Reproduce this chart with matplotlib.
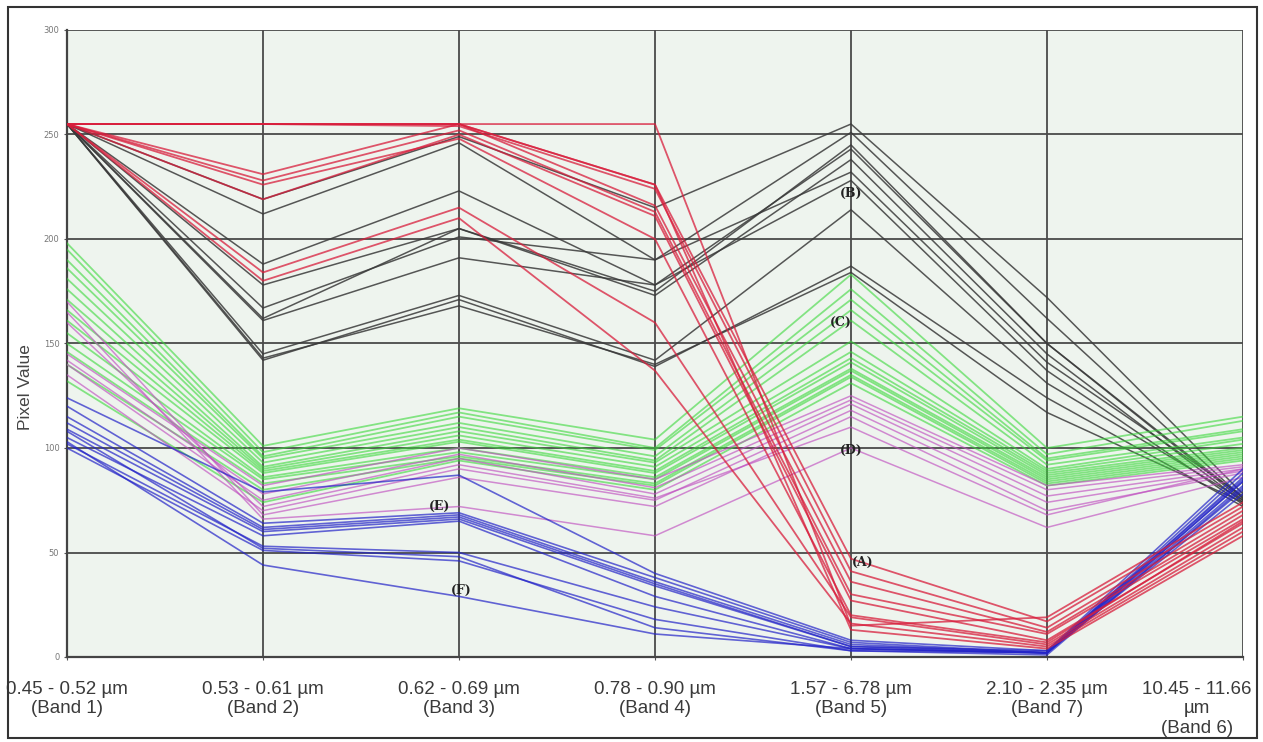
import matplotlib
matplotlib.use("Agg")
import matplotlib.pyplot as plt
from matplotlib.patches import Rectangle

bands = ["0.45 - 0.52 µm\n(Band 1)", "0.53 - 0.61 µm\n(Band 2)", "0.62 - 0.69 µm\n(Band 3)",
         "0.78 - 0.90 µm\n(Band 4)", "1.57 - 6.78 µm\n(Band 5)", "2.10 - 2.35 µm\n(Band 7)",
         "10.45 - 11.66\nµm\n(Band 6)"]
y_ticks = [0, 50, 100, 150, 200, 250, 300]

# Class A (red)
red_lines = [
    [255, 255, 255, 255, 15, 19, 74],
    [255, 255, 255, 226, 47, 17, 72],
    [255, 255, 254, 224, 41, 14, 70],
    [255, 231, 255, 216, 36, 12, 68],
    [255, 228, 252, 213, 30, 11, 66],
    [255, 219, 250, 211, 27, 8, 64],
    [255, 184, 215, 160, 19, 6, 62],
    [255, 180, 210, 137, 16, 5, 60],
    [255, 255, 255, 226, 13, 4, 58],
    [255, 226, 248, 200, 20, 7, 65],
]
# Class B (black)
black_lines = [
    [255, 219, 249, 215, 255, 172, 78],
    [255, 212, 246, 190, 251, 162, 76],
    [255, 188, 223, 178, 243, 150, 75],
    [255, 178, 205, 173, 238, 145, 74],
    [255, 167, 201, 190, 232, 141, 77],
    [255, 161, 191, 178, 228, 137, 73],
    [255, 145, 173, 142, 214, 131, 75],
    [255, 142, 171, 139, 187, 124, 72],
    [255, 143, 168, 140, 184, 117, 74],
    [255, 162, 205, 175, 245, 150, 76],
]
# Class C (green)
green_lines = [
    [198, 101, 119, 104, 183, 100, 115],
    [195, 98, 117, 100, 176, 97, 113],
    [190, 96, 115, 99, 171, 95, 109],
    [186, 95, 112, 96, 166, 94, 108],
    [181, 93, 110, 94, 161, 92, 105],
    [176, 91, 108, 93, 151, 90, 104],
    [171, 90, 106, 91, 146, 89, 102],
    [166, 89, 104, 89, 143, 88, 100],
    [161, 88, 103, 88, 141, 87, 99],
    [155, 86, 100, 86, 138, 86, 98],
    [150, 85, 98, 85, 137, 85, 97],
    [146, 83, 96, 83, 135, 84, 96],
    [140, 80, 95, 82, 134, 83, 95],
    [132, 74, 94, 80, 131, 82, 94],
]
# Class D (magenta)
magenta_lines = [
    [145, 82, 100, 85, 125, 82, 92],
    [142, 78, 97, 81, 123, 80, 91],
    [140, 75, 95, 78, 121, 77, 90],
    [135, 70, 90, 75, 118, 74, 89],
    [170, 68, 86, 72, 115, 70, 88],
    [165, 66, 72, 58, 100, 62, 86],
    [160, 72, 92, 76, 110, 68, 90],
]
# Classes E / F (blue)
blue_lines = [
    [124, 79, 87, 40, 8, 3, 90],
    [120, 64, 69, 38, 7, 2, 88],
    [115, 62, 68, 36, 6, 2, 86],
    [112, 61, 67, 35, 5, 3, 85],
    [109, 60, 66, 34, 5, 2, 84],
    [105, 58, 65, 29, 4, 2, 82],
    [102, 53, 50, 24, 4, 2, 80],
    [100, 51, 46, 18, 3, 2, 78],
    [108, 52, 48, 14, 3, 1, 81],
    [103, 44, 29, 11, 4, 2, 84],
]
labels = ["(A)", "(B)", "(C)", "(D)", "(E)", "(F)"]
label_x = [4.06, 4.0, 3.95, 4.0, 1.9, 2.01]
label_y = [45, 222, 160, 99, 72, 32]

fig = plt.figure(figsize=(12.63, 7.42), dpi=100)
fig.patch.set_facecolor("white")
ax = fig.add_axes([67/1263, 1-657/742, (1243-67)/1263, (657-30)/742])
ax.set_facecolor("#eef4ee")

x = list(range(len(bands)))
for v in black_lines:
    ax.plot(x, v, color="#3a3a3a", lw=1.1, alpha=0.85, zorder=3)
for v in green_lines:
    ax.plot(x, v, color="#3ad83a", lw=1.3, alpha=0.6, zorder=3)
for v in magenta_lines:
    ax.plot(x, v, color="#c050c0", lw=1.1, alpha=0.65, zorder=3)
for v in blue_lines:
    ax.plot(x, v, color="#2424c8", lw=1.2, alpha=0.7, zorder=3)
for v in red_lines:
    ax.plot(x, v, color="#d81e3c", lw=1.3, alpha=0.75, zorder=4)

for t, lx, ly in zip(labels, label_x, label_y):
    ax.text(lx, ly, t, fontsize=9, fontweight="bold", family="DejaVu Serif",
            ha="center", va="center", color="#222222", zorder=5)

ax.set_xlim(0, 6)
ax.set_ylim(0, 300)
ax.set_xticks(x)
tick_texts = bands[:-1] + [""]
ax.set_xticklabels(tick_texts, fontsize=13.5, color="#3a3a3a", family="Liberation Sans",
                   linespacing=1.2)
ax.tick_params(axis="x", pad=15)
# last band label sits shifted left so it stays inside the figure
ax.annotate(bands[-1], xy=(x[-1], 0), xycoords=("data", "axes fraction"),
            xytext=(-33, -17), textcoords="offset points", ha="center", va="top",
            fontsize=13.5, color="#3a3a3a", family="Liberation Sans", linespacing=1.2,
            annotation_clip=False)
ax.set_yticks(y_ticks)
ax.set_yticklabels([str(t) for t in y_ticks], fontsize=6, color="#777777")
ax.tick_params(axis="both", length=2, color="#555555")
ax.set_ylabel("Pixel Value", fontsize=12.5, color="#444444", family="Liberation Sans")
ax.yaxis.set_label_coords(-0.029, 0.43)
ax.grid(True, color="#4a4a4a", lw=1.3, zorder=1)
ax.set_axisbelow(True)
for s in ["top", "right"]:
    ax.spines[s].set_visible(False)
for s in ["left", "bottom"]:
    ax.spines[s].set_color("#444444")
    ax.spines[s].set_linewidth(1.6)

fig.patches.append(Rectangle((8/1263, 4/742), (1257-8)/1263, (735-4)/742,
                             transform=fig.transFigure, fill=False,
                             edgecolor="#333333", lw=1.5))

fig.savefig("out.png", dpi=100)
